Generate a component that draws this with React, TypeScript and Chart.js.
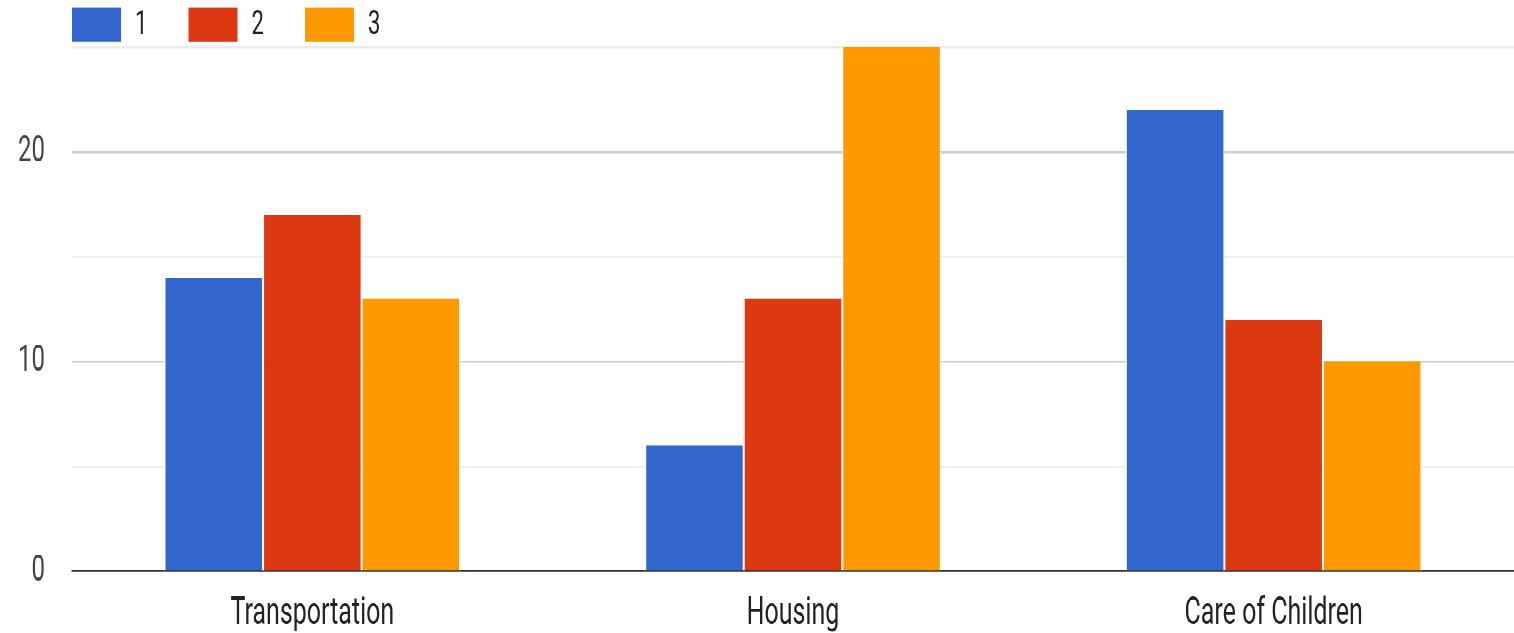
import React, { useEffect, useRef } from "react";
import { Chart, registerables } from "chart.js";

Chart.register(...registerables);

const categories = ["Transportation", "Housing", "Care of Children"];
const seriesNames = ["1", "2", "3"];
const series1 = [14, 6, 22];
const series2 = [17, 13, 12];
const series3 = [13, 25, 10];
const seriesColors = ["#3366cc", "#dc3912", "#ff9900"];
const yTicks = [0, 5, 10, 15, 20, 25];
const yLabelled = [0, 10, 20];

const W = 1514;
const H = 416;
const SY = 633 / H;
const FONT = "Roboto, 'Noto Sans', sans-serif";

const legendPlugin = {
  id: "customLegend",
  afterDraw(chart: any) {
    const ctx = chart.ctx;
    const left = chart.chartArea.left;
    const stride = 116.5;
    const boxW = 49;
    const boxH = 22.6;
    const boxTop = 4.8;
    ctx.save();
    ctx.font = `22px ${FONT}`;
    ctx.textBaseline = "middle";
    ctx.textAlign = "left";
    chart.data.datasets.forEach((ds: any, i: number) => {
      const x = left + i * stride;
      ctx.fillStyle = ds.backgroundColor;
      ctx.fillRect(x, boxTop, boxW, boxH);
      ctx.fillStyle = "#222222";
      ctx.fillText(ds.label, x + boxW + 14, boxTop + boxH / 2 + 1);
    });
    ctx.restore();
  },
};

export default function App() {
  const ref = useRef<HTMLCanvasElement | null>(null);
  useEffect(() => {
    if (!ref.current) return;
    const data = [series1, series2, series3];
    const chart = new Chart(ref.current, {
      type: "bar",
      data: {
        labels: categories,
        datasets: data.map((d, i) => ({
          label: seriesNames[i],
          data: d,
          backgroundColor: seriesColors[i],
          borderColor: "#ffffff",
          borderWidth: { left: 1, right: 1, top: 0, bottom: 0 },
          borderSkipped: false,
          categoryPercentage: 0.615,
          barPercentage: 1,
        })),
      },
      options: {
        responsive: false,
        animation: false,
        devicePixelRatio: 2,
        layout: { padding: { top: 31, right: 0, bottom: -16.3, left: 0 } },
        plugins: {
          legend: { display: false },
          tooltip: { enabled: false },
          title: { display: false },
        },
        scales: {
          x: {
            grid: { display: false, drawTicks: false },
            border: { display: true, color: "#333333", width: 1.4 },
            ticks: {
              font: { family: FONT, size: 25 },
              color: "#222222",
              padding: 13.5,
            },
          },
          y: {
            min: 0,
            max: 25,
            afterBuildTicks: (scale: any) => {
              scale.ticks = yTicks.map((v) => ({ value: v }));
            },
            afterFit: (scale: any) => {
              scale.width = 72;
              scale.paddingTop = 0;
              scale.paddingBottom = 0;
            },
            ticks: {
              font: { family: FONT, size: 24 },
              color: "#444444",
              padding: 27,
              callback: (v: any) => (yLabelled.includes(Number(v)) ? String(v) : ""),
            },
            grid: {
              drawTicks: false,
              lineWidth: 1.2,
              color: (c: any) => {
                const v = c.tick ? c.tick.value : 0;
                if (v === 0) return "rgba(0,0,0,0)";
                return yLabelled.includes(v) ? "#cccccc" : "#ebebeb";
              },
            },
            border: { display: false },
          },
        },
      },
      plugins: [legendPlugin],
    });
    return () => chart.destroy();
  }, []);
  return (
    <div
      style={{
        position: "fixed",
        top: 0,
        left: 0,
        width: W,
        height: H,
        transform: `scaleY(${SY})`,
        transformOrigin: "0 0",
        background: "#ffffff",
      }}
    >
      <canvas ref={ref} width={W} height={H} style={{ width: W, height: H, display: "block" }} />
    </div>
  );
}
